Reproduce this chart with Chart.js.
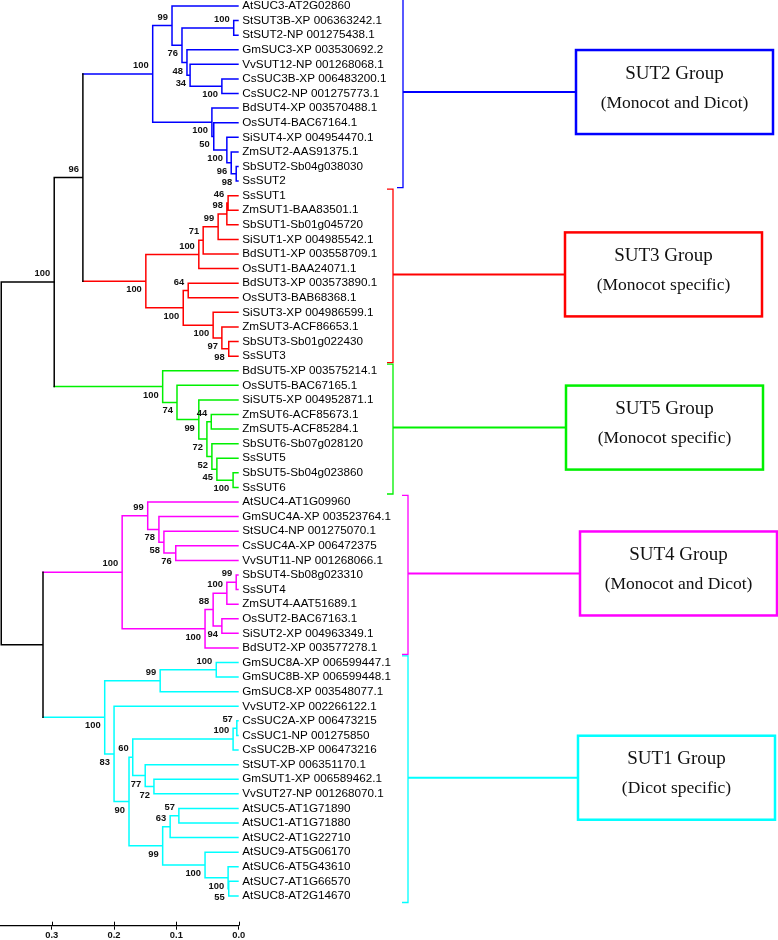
<!DOCTYPE html>
<html>
<head>
<meta charset="utf-8">
<script src="https://cdn.jsdelivr.net/npm/chart.js@4.4.0/dist/chart.umd.min.js"></script>
<style>
  html, body { margin: 0; padding: 0; background: #fff; }
  #wrap { position: relative; width: 778px; height: 940px; }
</style>
</head>
<body>
<div id="wrap"><canvas id="treeChart"></canvas></div>
<script>
// leaves, top to bottom (row index = position in this list)
var leafNames = [
    'AtSUC3-AT2G02860', 'StSUT3B-XP 006363242.1', 'StSUT2-NP 001275438.1', 'GmSUC3-XP 003530692.2',
    'VvSUT12-NP 001268068.1', 'CsSUC3B-XP 006483200.1', 'CsSUC2-NP 001275773.1', 'BdSUT4-XP 003570488.1',
    'OsSUT4-BAC67164.1', 'SiSUT4-XP 004954470.1', 'ZmSUT2-AAS91375.1', 'SbSUT2-Sb04g038030', 'SsSUT2',
    'SsSUT1', 'ZmSUT1-BAA83501.1', 'SbSUT1-Sb01g045720', 'SiSUT1-XP 004985542.1', 'BdSUT1-XP 003558709.1',
    'OsSUT1-BAA24071.1', 'BdSUT3-XP 003573890.1', 'OsSUT3-BAB68368.1', 'SiSUT3-XP 004986599.1',
    'ZmSUT3-ACF86653.1', 'SbSUT3-Sb01g022430', 'SsSUT3',
    'BdSUT5-XP 003575214.1', 'OsSUT5-BAC67165.1', 'SiSUT5-XP 004952871.1', 'ZmSUT6-ACF85673.1',
    'ZmSUT5-ACF85284.1', 'SbSUT6-Sb07g028120', 'SsSUT5', 'SbSUT5-Sb04g023860', 'SsSUT6',
    'AtSUC4-AT1G09960', 'GmSUC4A-XP 003523764.1', 'StSUC4-NP 001275070.1', 'CsSUC4A-XP 006472375',
    'VvSUT11-NP 001268066.1', 'SbSUT4-Sb08g023310', 'SsSUT4', 'ZmSUT4-AAT51689.1', 'OsSUT2-BAC67163.1',
    'SiSUT2-XP 004963349.1', 'BdSUT2-XP 003577278.1',
    'GmSUC8A-XP 006599447.1', 'GmSUC8B-XP 006599448.1', 'GmSUC8-XP 003548077.1', 'VvSUT2-XP 002266122.1',
    'CsSUC2A-XP 006473215', 'CsSUC1-NP 001275850', 'CsSUC2B-XP 006473216', 'StSUT-XP 006351170.1',
    'GmSUT1-XP 006589462.1', 'VvSUT27-NP 001268070.1', 'AtSUC5-AT1G71890', 'AtSUC1-AT1G71880',
    'AtSUC2-AT1G22710', 'AtSUC9-AT5G06170', 'AtSUC6-AT5G43610', 'AtSUC7-AT1G66570', 'AtSUC8-AT2G14670'
];

// groups, in leaf order
var groupTitles = ['SUT2 Group', 'SUT3 Group', 'SUT5 Group', 'SUT4 Group', 'SUT1 Group'];
var groupNotes = ['(Monocot and Dicot)', '(Monocot specific)', '(Monocot specific)', '(Monocot and Dicot)', '(Dicot specific)'];
var groupSizes = [13, 12, 9, 11, 17];

// internal nodes: kids (number = leaf row, string = node id), depth on the distance axis, bootstrap
var nodeIds = ['root', 'n54', 'n83', 'A', 'B', 'C', 'P', 'D', 'E', 'F', 'G', 'H', 'I', 'J', 'K',
    'L', 'M', 'O', 'Q', 'R', 'S', 'N', 'T', 'U', 'V', 'W',
    'X', 'Y', 'Z', 'CC', 'BB', 'DD', 'EE', 'FF',
    'n43', 'GG', 'HH', 'JJ', 'KK', 'LL', 'II', 'MM', 'NN', 'PP', 'OO',
    'QQ', 'RR', 'TT', 'SS', 'UU', 'VV', 'XX', 'YY', 'ZZ', 'AB', 'WW', 'AC', 'AD', 'AE', 'AF', 'AG'];
var nodeKids = [['n54', 'n43'], ['n83', 'X'], ['A', 'L'], ['B', 'G'], [0, 'C'], ['P', 'D'], [1, 2], [3, 'E'], [4, 'F'], [5, 6],
    [7, 'H'], [8, 'I'], [9, 'J'], [10, 'K'], [11, 12],
    ['M', 'N'], ['O', 18], ['Q', 17], ['R', 16], ['S', 15], [13, 14], ['T', 'U'], [19, 20], [21, 'V'], [22, 'W'], [23, 24],
    [25, 'Y'], [26, 'Z'], [27, 'CC'], ['BB', 'DD'], [28, 29], [30, 'EE'], [31, 'FF'], [32, 33],
    ['GG', 'QQ'], ['HH', 'II'], [34, 'JJ'], [35, 'KK'], [36, 'LL'], [37, 38], ['MM', 44], ['NN', 'OO'], ['PP', 41], [39, 40], [42, 43],
    ['RR', 'SS'], ['TT', 47], [45, 46], [48, 'UU'], ['VV', 'WW'], ['XX', 'ZZ'], ['YY', 51], [49, 50], [52, 'AB'], [53, 54],
    ['AC', 'AE'], ['AD', 57], [55, 56], [58, 'AF'], [59, 'AG'], [60, 61]];
var nodeDepth = [0.381, 0.296, 0.250, 0.138, 0.107, 0.091, 0.008, 0.083, 0.078, 0.027, 0.043, 0.040, 0.019, 0.012, 0.004,
    0.149, 0.064, 0.057, 0.033, 0.019, 0.017, 0.089, 0.081, 0.041, 0.027, 0.016,
    0.122, 0.099, 0.064, 0.051, 0.044, 0.043, 0.035, 0.009,
    0.314, 0.187, 0.146, 0.128, 0.120, 0.101, 0.054, 0.041, 0.019, 0.004, 0.027,
    0.215, 0.126, 0.036, 0.200, 0.176, 0.170, 0.009, 0.003, 0.150, 0.136, 0.122, 0.110, 0.096, 0.054, 0.017, 0.016];
var nodeSupport = [null, 100, 96, 100, 99, 76, 100, 48, 34, 100, 100, 50, 100, 96, 98,
    100, 100, 71, 99, 98, 46, 100, 64, 100, 97, 98,
    100, 74, 99, 72, 44, 52, 45, 100,
    null, 100, 99, 78, 58, 76, 100, 88, 100, 99, 94,
    100, 99, 100, 83, 90, 60, 100, 57, 77, 72, 99, 63, 57, 100, 100, 55];

var scaleTicks = [0, 0.1, 0.2, 0.3];

// styling
var groupColors = ['#0000ff', '#ff0000', '#00f000', '#ff00ff', '#00ffff'];
var groupLayout = [
    { bracketX: 403, boxLeft: 576 },
    { bracketX: 393, boxLeft: 565 },
    { bracketX: 393, boxLeft: 566 },
    { bracketX: 408, boxLeft: 580 },
    { bracketX: 408, boxLeft: 578 }
];
var treeRight = 238.7;
var smallFont = 'bold 9.4px "Liberation Sans", Arial, sans-serif';

// ---- tree bookkeeping ----
var groupOfLeaf = [];
groupSizes.forEach(function (n, g) {
    for (var k = 0; k < n; k++) groupOfLeaf.push(g);
});
var nodeIndex = {};
var parentOf = {};
nodeIds.forEach(function (id, i) { nodeIndex[id] = i; });
nodeKids.forEach(function (kids, i) {
    kids.forEach(function (k) { parentOf[k] = nodeIds[i]; });
});

function rowOf(kid) {
    if (typeof kid === 'number') return kid;
    var kids = nodeKids[nodeIndex[kid]];
    return (rowOf(kids[0]) + rowOf(kids[kids.length - 1])) / 2;
}
function depthOf(kid) {
    return typeof kid === 'number' ? 0 : nodeDepth[nodeIndex[kid]];
}
function groupOf(kid) {
    if (typeof kid === 'number') return groupOfLeaf[kid];
    var gs = nodeKids[nodeIndex[kid]].map(groupOf);
    return gs.every(function (g) { return g === gs[0]; }) ? gs[0] : -1;
}

// branch segments, one dataset per colour
var segs = {};
function addSeg(g, x1, y1, x2, y2) {
    if (!segs[g]) segs[g] = [];
    segs[g].push({ x: x1, y: y1 }, { x: x2, y: y2 }, { x: null, y: null });
}
nodeIds.forEach(function (id, i) {
    var kids = nodeKids[i];
    var h = nodeDepth[i];
    addSeg(groupOf(id), h, rowOf(kids[0]), h, rowOf(kids[kids.length - 1]));
    kids.forEach(function (k) {
        addSeg(groupOf(k), h, rowOf(k), depthOf(k), rowOf(k));
    });
});

var datasets = [-1, 0, 1, 2, 3, 4].map(function (g) {
    return {
        data: segs[g],
        showLine: true,
        borderColor: g < 0 ? '#000000' : groupColors[g],
        borderWidth: 1.5,
        borderCapStyle: 'square',
        pointRadius: 0,
        pointHoverRadius: 0,
        spanGaps: false
    };
});

// bootstrap values, tick stubs, group brackets and boxes
var treeNotes = {
    id: 'treeNotes',
    afterDraw: function (chart) {
        var ctx = chart.ctx;
        var xs = chart.scales.x;
        var ys = chart.scales.y;
        ctx.save();

        ctx.fillStyle = '#111';
        ctx.font = smallFont;
        ctx.textAlign = 'right';
        ctx.textBaseline = 'middle';
        nodeIds.forEach(function (id, i) {
            if (nodeSupport[i] === null) return;
            var parent = parentOf[id];
            var upper = nodeKids[nodeIndex[parent]][0] === id;
            var px = xs.getPixelForValue(nodeDepth[i]) - 4;
            var py = ys.getPixelForValue(rowOf(id)) + (upper ? -8.5 : 8.5);
            ctx.fillText(String(nodeSupport[i]), px, py);
        });

        // upper half of the scale bar ticks
        ctx.strokeStyle = '#000';
        ctx.lineWidth = 1;
        scaleTicks.forEach(function (t) {
            var x = Math.round(xs.getPixelForValue(t)) + 0.5;
            ctx.beginPath();
            ctx.moveTo(x, chart.chartArea.bottom - 4);
            ctx.lineTo(x, chart.chartArea.bottom);
            ctx.stroke();
        });

        var first = 0;
        groupSizes.forEach(function (n, g) {
            var lay = groupLayout[g];
            var top = ys.getPixelForValue(first - 0.45);
            var bot = ys.getPixelForValue(first + n - 1 + 0.45);
            var mid = ys.getPixelForValue(first + (n - 1) / 2) - 1.5;
            var bx = lay.bracketX;
            ctx.strokeStyle = groupColors[g];

            ctx.lineWidth = 1.3;
            ctx.beginPath();
            ctx.moveTo(bx - 6, top);
            ctx.lineTo(bx, top);
            ctx.lineTo(bx, bot);
            ctx.lineTo(bx - 6, bot);
            ctx.stroke();

            ctx.lineWidth = 2;
            ctx.beginPath();
            ctx.moveTo(bx, mid);
            ctx.lineTo(lay.boxLeft, mid);
            ctx.stroke();

            ctx.lineWidth = 2.5;
            ctx.strokeRect(lay.boxLeft, mid - 42, 197, 84);

            ctx.fillStyle = '#111';
            ctx.textAlign = 'center';
            ctx.textBaseline = 'middle';
            ctx.font = '19px "Liberation Serif", "Times New Roman", serif';
            ctx.fillText(groupTitles[g], lay.boxLeft + 98.5, mid - 18.5);
            ctx.font = '17.5px "Liberation Serif", "Times New Roman", serif';
            ctx.fillText(groupNotes[g], lay.boxLeft + 98.5, mid + 11);

            first += n;
        });
        ctx.restore();
    }
};

var ctx = document.getElementById('treeChart').getContext('2d');
var treeChart = new Chart(ctx, {
    type: 'scatter',
    data: { datasets: datasets },
    options: {
        responsive: true,
        maintainAspectRatio: false,
        animation: false,
        events: [],
        layout: { padding: 0 },
        plugins: {
            legend: { display: false },
            tooltip: { enabled: false }
        },
        scales: {
            x: {
                type: 'linear',
                position: 'bottom',
                reverse: true,
                min: 0,
                max: 0.383,
                afterBuildTicks: function (scale) {
                    scale.ticks = scaleTicks.map(function (v) { return { value: v }; });
                },
                afterFit: function (scale) {
                    scale.height = 14.3;
                    scale.paddingLeft = 0;
                    scale.paddingRight = 0;
                },
                border: { display: true, color: '#000', width: 1.3 },
                grid: { drawOnChartArea: false, drawTicks: true, tickLength: 4, color: '#000' },
                ticks: {
                    padding: 1,
                    maxRotation: 0,
                    autoSkip: false,
                    color: '#111',
                    font: { family: '"Liberation Sans", Arial, sans-serif', size: 9.4, weight: 'bold', lineHeight: 1 },
                    callback: function (v) { return Number(v).toFixed(1); }
                }
            },
            y: {
                type: 'linear',
                position: 'right',
                reverse: true,
                min: -0.411,
                max: 63.04,
                afterBuildTicks: function (scale) {
                    scale.ticks = leafNames.map(function (n, i) { return { value: i }; });
                },
                afterFit: function (scale) {
                    scale.width = 778 - treeRight;
                    scale.paddingTop = 0;
                    scale.paddingBottom = 0;
                },
                border: { display: false },
                grid: { display: false, drawTicks: false },
                ticks: {
                    padding: 3.5,
                    autoSkip: false,
                    color: '#000',
                    font: { family: '"Liberation Sans", Arial, sans-serif', size: 11.7 },
                    callback: function (v) { return leafNames[v]; }
                }
            }
        }
    },
    plugins: [treeNotes]
});
</script>
</body>
</html>
